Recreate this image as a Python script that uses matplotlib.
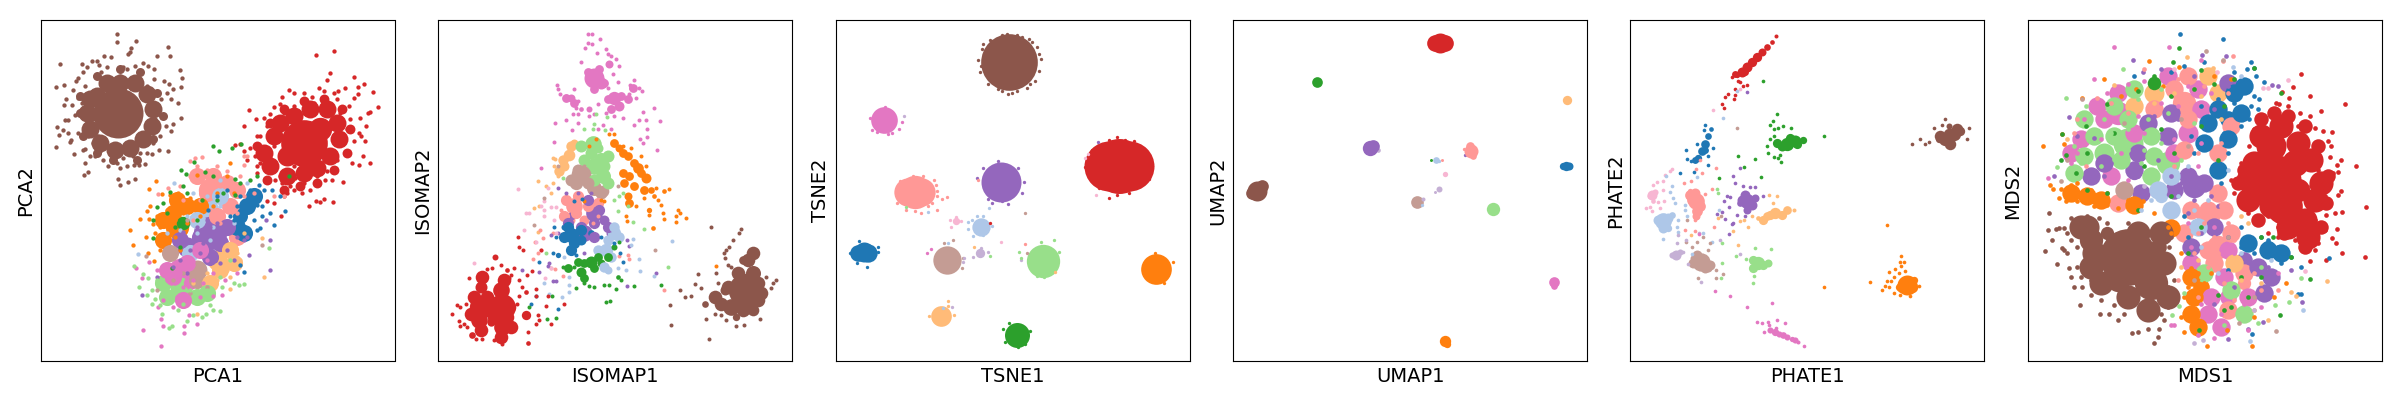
import matplotlib
matplotlib.use("Agg")
import matplotlib.pyplot as plt

BL, LB, OR, LO, GR, LG = "#1f77b4", "#aec7e8", "#ff7f0e", "#ffbb78", "#2ca02c", "#98df8a"
RE, LR, PU, LP = "#d62728", "#ff9896", "#9467bd", "#c5b0d5"
BR, LN, PI, LI = "#8c564b", "#c49c94", "#e377c2", "#f7b6d2"

NAMES = ["PCA", "ISOMAP", "TSNE", "UMAP", "PHATE", "MDS"]

# ---- values (x, y in picture position units per panel)
PCA_CORE_C = [LR, LB, OR, BL, PU, PU, PI, LN, LO, LG, PI, BR, RE, RE, RE]
PCA_CORE_XY = [(510,510),(500,570),(410,620),(600,590),(510,640),(440,680),(420,750),(470,750),(530,720),(420,800),(450,790),(235,280),(790,370),(740,410),(840,330)]
PCA_CORE_D = [70,70,70,45,100,60,70,60,60,60,40,150,140,60,70]
PCA_FILL = [
 (BR, 40, [(170,230),(200,190),(240,190),(285,190),(320,225),(340,270),(335,320),(310,360),(270,385),(225,390),(180,370),(150,330),(140,280),(150,240)]),
 (BR, 20, [(120,280),(130,350),(170,400),(220,420),(290,420),(340,360),(370,290),(350,220),(300,160),(240,150),(170,170),(120,230)]),
 (RE, 40, [(700,350),(720,310),(760,290),(810,270),(860,270),(890,310),(895,360),(870,410),(830,445),(790,460),(740,470),(690,440),(670,400)]),
 (RE, 22, [(650,380),(680,480),(730,510),(780,500),(830,490),(880,450),(920,400),(930,330),(905,270),(850,240),(790,245),(730,270),(690,310)]),
 (LR, 38, [(470,470),(520,470),(560,490),(590,510),(500,520),(530,590),(570,560),(590,650)]),
 (OR, 38, [(410,540),(480,560),(370,600),(400,580),(440,560),(370,660)]),
 (LB, 38, [(540,530),(470,600),(450,700)]),
 (BL, 38, [(620,560),(640,530),(590,620),(610,640)]),
 (GR, 30, [(430,610)]),
 (PU, 38, [(560,620),(420,660),(480,650),(540,670),(510,710)]),
 (LN, 38, [(390,700),(470,780)]),
 (LO, 38, [(570,690),(540,750),(580,730),(510,790)]),
 (LG, 38, [(370,790),(420,820),(380,830),(470,830),(500,820)]),
 (PI, 38, [(480,690),(380,750),(440,730),(430,840),(400,770)]),
]
PCA_BROWN = [(231,44),(232,70),(288,66),(274,88),(385,84),(389,110),(350,111),(265,105),(270,100),(213,115),(193,111),(61,136),(155,127),(127,135),(172,127),(178,137),(130,160),(115,177),(107,185),(73,196),(49,203),(141,145),(200,145),(248,143),(262,150),(285,140),(308,132),(324,142),(342,150),(419,154),(427,176),(372,185),(387,195),(424,204),(400,210),(382,222),(393,240),(415,250),(362,240),(342,180),(165,170),(183,160),(135,200),(100,212),(115,235),(78,238),(72,258),(97,258),(125,250),(140,262),(105,288),(75,303),(85,303),(52,324),(68,333),(83,340),(58,348),(92,362),(90,368),(47,382),(102,402),(128,390),(135,388),(145,350),(115,340),(135,325),(160,370),(175,350),(150,410),(135,430),(165,408),(190,420),(205,440),(143,456),(132,465),(234,478),(241,495),(263,486),(285,478),(240,445),(262,440),(283,437),(298,437),(316,432),(335,402),(357,392),(385,395),(393,336),(400,313),(424,295),(378,320),(360,350),(340,370),(320,400),(300,400),(280,410),(215,400),(250,415),(230,430),(180,395),(160,300),(330,320),(345,300),(350,260),(320,200),(290,180),(240,170),(190,190),(170,220),(145,235)]
PCA_RED = [(828,107),(880,97),(868,162),(861,181),(941,172),(972,195),(953,202),(997,217),(915,206),(953,225),(1013,263),(990,278),(983,280),(940,235),(925,260),(835,207),(745,212),(725,232),(760,220),(790,222),(815,232),(850,215),(880,220),(893,215),(627,272),(700,262),(720,255),(690,285),(670,295),(648,300),(610,320),(660,350),(680,320),(705,310),(730,280),(760,260),(900,280),(930,300),(960,295),(978,320),(955,340),(962,350),(975,365),(940,365),(920,395),(890,420),(935,430),(955,435),(968,410),(990,430),(908,488),(875,480),(855,480),(830,470),(860,455),(810,510),(790,490),(765,475),(750,500),(725,490),(705,480),(680,450),(660,430),(645,410),(630,385),(610,395),(583,376),(600,375),(620,420),(650,440),(690,415),(700,380),(720,470),(740,520),(760,510),(785,520),(805,560),(827,544),(840,548),(850,537),(878,548),(730,530),(680,545),(700,550),(722,588),(920,330),(880,300),(860,280),(770,290),(740,300),(890,240),(870,260),(820,250),(790,280),(650,460),(670,400),(700,440),(820,440),(760,440),(850,420),(900,370),(650,350)]
PCA_ORANGE = [(349,484),(326,508),(330,560),(322,575),(300,598),(327,598),(270,631),(278,676),(317,650),(340,612),(365,522),(390,525),(415,520),(450,535),(470,465),(560,470),(570,430),(580,520),(520,560),(380,570),(350,590),(360,620),(405,600),(430,580),(405,650),(380,660),(345,640),(325,700),(342,722),(360,690),(440,610),(420,690),(400,560),(455,560),(480,590),(530,520)]
PCA_LRED = [(465,416),(487,413),(450,425),(470,440),(500,450),(530,440),(560,455),(610,437),(620,410),(600,470),(450,470),(420,500),(385,505),(355,522),(500,500),(540,500),(570,540),(610,530),(590,580),(540,610),(480,540),(460,600),(510,570),(640,520),(700,530),(610,410),(730,530),(430,540),(480,480)]
PCA_LBLUE = [(403,490),(295,701),(540,480),(500,530),(460,520),(420,630),(380,640),(540,560),(580,610),(520,620),(470,640),(440,590),(510,660),(620,490)]
PCA_GREEN = [(519,379),(537,393),(574,386),(602,375),(423,451),(437,464),(463,427),(495,457),(520,470),(430,498),(390,518),(352,563),(370,550),(380,580),(340,600),(340,655),(405,620),(440,520),(485,540),(548,520),(585,525),(600,490),(630,480),(650,470),(745,470),(585,478),(420,680),(395,745),(470,600),(530,540)]
PCA_BLUE = [(655,495),(670,512),(630,510),(600,530),(590,560),(620,550),(640,540),(610,590),(580,600),(640,600),(620,630),(600,650),(665,590),(650,630),(695,510),(720,530),(735,575),(702,615),(665,560),(690,580),(560,510),(530,530),(505,570),(600,735),(612,755),(570,590),(630,570),(650,555),(660,625)]
PCA_PURPLE = [(430,635),(470,620),(500,600),(530,610),(560,640),(590,650),(610,660),(530,670),(490,670),(450,690),(420,720),(480,700),(520,700),(560,690),(580,720),(540,730),(625,705),(688,660),(688,750),(677,600),(620,650),(307,824),(350,770),(400,740),(440,760),(510,620)]
PCA_LORANGE = [(665,655),(670,772),(569,807),(580,740),(600,720),(560,750),(530,780),(500,760),(460,790),(610,640),(590,700),(545,715),(470,880),(520,740),(570,770)]
PCA_LBROWN = [(664,675),(318,708),(375,700),(440,600),(470,730),(430,760),(400,780),(500,800),(350,810),(450,820),(400,700)]
PCA_PINK = [(308,930),(363,978),(433,937),(432,918),(370,917),(362,895),(470,912),(447,883),(287,745),(305,773),(326,725),(370,840),(400,860),(350,750),(380,780),(430,800),(460,780),(490,790),(520,760),(410,830),(450,740),(500,720),(420,760),(480,830),(355,860),(555,780),(545,825),(520,828),(590,760)]
PCA_LGREEN = [(282,738),(310,762),(325,775),(298,800),(320,825),(335,810),(345,838),(360,855),(335,850),(395,918),(386,923),(365,880),(415,870),(440,903),(485,890),(460,885),(497,882),(520,868),(540,871),(510,855),(545,800),(580,790),(612,792),(597,795),(685,683),(360,800),(390,830),(430,850),(470,840),(500,810),(540,770),(570,720),(450,810),(400,800),(350,780)]
PCA_DOT_C = [BR, RE, OR, LR, LB, GR, BL, PU, LO, LN, PI, LG]
PCA_DOTS = [PCA_BROWN, PCA_RED, PCA_ORANGE, PCA_LRED, PCA_LBLUE, PCA_GREEN, PCA_BLUE, PCA_PURPLE, PCA_LORANGE, PCA_LBROWN, PCA_PINK, PCA_LGREEN]

ISO_CORE_C = [PI]*9 + [LG]*5 + [LO]*3 + [LN]*4 + [OR]*11 + [LR]*3 + [PU]*5 + [BL]*5 + [LB]*3 + [GR]*5 + [LI] + [RE]*13 + [BR]*9
ISO_CORE_XY = [(470,175),(490,190),(515,135),(530,235),(545,260),(400,235),(455,270),(430,268),(580,205),
 (465,375),(490,420),(470,440),(495,470),(480,385),(395,405),(380,440),(410,370),
 (430,465),(470,505),(415,490),(495,515),
 (545,385),(570,410),(600,445),(625,475),(640,510),(560,490),(570,530),(650,530),(635,570),(680,515),(645,625),
 (410,560),(440,600),(400,600),(470,580),(440,640),(500,600),(520,640),(400,590),
 (400,645),(430,660),(360,705),(380,620),(460,640),(530,640),(505,690),(510,750),
 (460,725),(430,755),(490,730),(540,770),(530,680),(320,545),
 (130,860),(130,800),(125,900),(195,860),(195,920),(190,810),(265,885),(265,815),(172,712),(210,750),(270,968),(160,905),(105,945),
 (920,810),(880,860),(945,760),(860,810),(945,870),(950,690),(915,720),(800,850),(895,890)]
ISO_CORE_D = [60,36,24,40,30,24,18,14,14, 50,45,50,45,30, 35,30,24, 60,45,40,35, 24,26,32,30,20,26,24,14,16,14,14, 50,30,24, 50,50,30,30,24, 45,30,16,18,20, 40,40,24, 36,30,24,14,18, 12, 70,36,50,80,50,50,28,14,18,14,14,25,20, 100,50,45,30,35,14,26,20,22]
ISO_FILL = [
 (RE, 34, [(110,830),(135,770),(120,870),(150,830),(100,880),(130,930),(200,780),(170,850),(215,860),(170,890),(210,890),(190,950),(220,920)]),
 (BR, 34, [(870,800),(900,760),(930,720),(960,790),(970,820),(900,850),(850,850),(830,830),(930,860),(960,840),(945,700),(915,870)]),
 (PI, 22, [(450,160),(485,150),(500,190),(470,210),(510,240),(550,230),(570,240),(520,270),(385,235),(410,250),(585,205)]),
 (LO, 26, [(400,380),(375,420),(365,455)]),
 (LG, 30, [(430,380),(460,400),(440,420),(510,410),(500,440),(470,480),(510,490)]),
 (LN, 30, [(420,450),(400,480),(450,490),(490,520)]),
 (OR, 22, [(530,370),(555,400),(590,430),(610,460),(575,470),(590,500),(555,460),(620,510),(575,550)]),
 (LR, 28, [(385,540),(420,530),(450,560),(380,590),(480,550),(415,580)]),
 (PU, 28, [(450,540),(485,570),(470,610),(510,620),(390,610),(430,620),(470,650)]),
 (BL, 28, [(390,620),(410,670),(380,650),(430,630),(400,690)]),
 (LB, 26, [(530,620),(545,650),(510,660),(520,710),(480,690),(500,740)]),
 (GR, 22, [(420,725),(440,730),(470,745),(510,710),(440,775),(480,710),(390,745)]),
]
ISO_PINK = [(450,45),(463,46),(486,59),(452,72),(462,76),(443,87),(478,103),(505,90),(510,105),(535,120),(520,110),(429,129),(545,142),(525,165),(540,187),(510,205),(357,198),(360,209),(367,224),(385,230),(410,210),(420,245),(415,265),(590,183),(577,197),(605,205),(612,215),(595,235),(575,225),(505,280),(480,255),(470,285),(455,290),(405,285),(422,285),(385,302),(352,310),(422,310),(650,265),(617,279),(605,302),(625,302),(667,306),(588,318),(627,330),(607,358),(627,352),(617,370),(659,392),(350,367),(403,333),(310,446),(480,330),(495,318),(520,330),(555,295),(528,290)]
ISO_LGREEN = [(475,285),(508,292),(470,315),(465,330),(440,330),(375,475),(530,540),(545,530),(555,520),(570,560),(587,608),(620,628),(540,575),(692,742),(325,698),(503,332)]
ISO_LORANGE = [(345,416),(353,417),(350,440),(360,470),(345,490),(340,520),(300,483),(290,565),(305,560),(300,635),(325,500)]
ISO_LBROWN = [(290,616),(653,690),(540,500),(440,440),(320,535),(360,440)]
ISO_ORANGE = [(513,345),(530,345),(555,380),(580,385),(610,410),(625,440),(655,505),(660,540),(670,555),(675,580),(678,597),(695,507),(720,572),(727,580),(715,590),(715,606),(745,595),(565,590),(567,605),(595,560),(620,535),(635,585),(500,545),(490,540),(475,360),(455,380),(438,545),(835,737)]
ISO_LRED = [(465,610),(480,590),(370,570),(375,590),(345,640),(420,520),(316,654),(293,665),(307,630),(310,690),(340,745),(352,748),(375,768),(300,700),(570,705),(575,718),(545,708),(680,810),(285,717)]
ISO_PURPLE = [(362,505),(385,520),(420,520),(460,520),(340,645),(360,640),(255,750),(305,757),(345,782),(355,782),(333,728),(568,659),(575,677),(655,760),(567,797),(440,700),(330,738)]
ISO_BLUE = [(410,545),(432,538),(350,620),(355,650),(345,700),(305,727),(295,829),(362,866),(400,700),(415,705),(530,670),(548,700),(555,725),(280,850),(490,650)]
ISO_LBLUE = [(585,657),(702,663),(580,675),(605,717),(565,750),(607,752),(650,767),(395,770),(395,795),(393,815),(372,832),(335,823),(318,790),(380,710),(540,745)]
ISO_GREEN = [(390,745),(375,740),(410,740),(440,790),(455,798),(470,800),(498,795),(515,795),(535,808),(590,798),(545,665),(505,845),(518,843),(342,827),(329,895),(356,892),(670,795),(275,860),(415,805),(550,780)]
ISO_LPINK = [(243,509),(330,505),(310,560),(320,570),(340,563),(355,563),(320,590),(265,580),(275,580),(350,600),(260,630),(295,665),(322,773),(340,745),(110,729),(355,640)]
ISO_RED = [(45,880),(58,855),(67,860),(65,902),(68,917),(80,910),(95,775),(85,850),(90,920),(115,955),(135,955),(170,958),(195,972),(150,747),(165,745),(190,735),(230,745),(220,765),(215,775),(268,765),(245,780),(283,753),(255,800),(295,808),(295,828),(245,680),(242,650),(258,690),(245,828),(240,850),(300,885),(305,900),(295,910),(325,858),(330,828),(340,912),(380,850),(310,690),(270,935)]
ISO_BROWN = [(818,620),(910,627),(902,640),(885,660),(863,690),(873,680),(857,700),(860,715),(835,760),(780,762),(772,792),(790,805),(727,810),(760,827),(742,831),(697,853),(700,915),(812,957),(805,895),(830,880),(895,918),(918,915),(965,895),(985,770),(1015,780),(1005,790),(998,803),(870,735),(840,790),(848,885),(865,900),(880,740)]
ISO_DOT_C = [PI, LG, LO, LN, OR, LR, PU, BL, LB, GR, LI, RE, BR]
ISO_DOTS = [ISO_PINK, ISO_LGREEN, ISO_LORANGE, ISO_LBROWN, ISO_ORANGE, ISO_LRED, ISO_PURPLE, ISO_BLUE, ISO_LBLUE, ISO_GREEN, ISO_LPINK, ISO_RED, ISO_BROWN]

TSNE_CORE_C = [BR, RE, RE, RE, PU, LR, LR, LR, PI, BL, BL, BL, LB, LI, LN, LP, LG, OR, LO, GR]
TSNE_CORE_XY = [(523,128),(820,440),(880,440),(850,440),(498,487),(220,517),(258,517),(240,517),(148,302),(70,698),(100,698),(87,697),(437,622),(362,604),(335,720),(435,700),(623,722),(962,748),(318,887),(545,943)]
TSNE_CORE_D = [170,150,150,165,120,85,85,100,80,50,55,60,55,22,85,28,100,92,62,75]
TSNE_BROWN = [(517,45),(470,65),(440,90),(428,122),(435,160),(460,195),(500,215),(545,215),(585,195),(612,155),(618,120),(605,85),(580,60),(545,48),(490,210),(518,225),(530,222),(575,205),(600,185),(437,140),(445,75),(465,62),(500,48),(560,55),(590,70),(612,105)]
TSNE_RED = [(845,353),(820,362),(770,390),(755,420),(750,442),(765,475),(790,505),(820,534),(845,525),(880,520),(915,500),(940,478),(950,440),(940,405),(915,380),(897,365),(870,362),(464,610)]
TSNE_PURPLE = [(425,474),(460,537),(520,553),(472,550),(560,520),(565,487),(548,445),(490,425),(445,445),(500,545),(787,367)]
TSNE_LRED = [(297,481),(303,495),(307,513),(306,530),(320,537),(336,532),(292,550),(280,560),(305,572),(257,580),(240,574),(213,572),(187,551),(196,484),(264,470),(235,468),(570,673),(428,482)]
TSNE_PINK = [(201,308),(193,330),(112,332),(127,337),(150,262),(105,297),(170,340),(158,345),(277,700),(289,688)]
TSNE_BLUE = [(130,680),(97,742),(72,662),(45,700),(128,695),(65,728)]
TSNE_LBLUE = [(398,607),(462,565),(443,590),(425,590),(470,617),(400,627),(415,648),(445,645),(410,600),(338,670),(279,577),(325,863)]
TSNE_LPINK = [(346,602),(378,605),(348,621),(362,592),(498,667),(782,526),(748,414),(758,403)]
TSNE_LBROWN = [(326,668),(355,661),(383,713),(570,581),(380,745),(575,700)]
TSNE_LPURPLE = [(415,711),(460,695),(437,683),(387,715),(385,727),(557,720),(350,860),(207,289)]
TSNE_LGREEN = [(618,665),(655,660),(672,695),(550,696),(558,713),(465,709),(605,768),(625,770),(213,563)]
TSNE_ORANGE = [(1013,725),(960,700),(925,745),(985,790)]
TSNE_LORANGE = [(340,841),(340,857),(358,883),(282,888),(417,681),(660,755)]
TSNE_GREEN = [(523,908),(585,932),(510,965),(547,980),(570,972),(505,925)]
TSNE_DOT_C = [BR, RE, PU, LR, PI, BL, LB, LI, LN, LP, LG, OR, LO, GR]
TSNE_DOTS = [TSNE_BROWN, TSNE_RED, TSNE_PURPLE, TSNE_LRED, TSNE_PINK, TSNE_BLUE, TSNE_LBLUE, TSNE_LPINK, TSNE_LBROWN, TSNE_LPURPLE, TSNE_LGREEN, TSNE_ORANGE, TSNE_LORANGE, TSNE_GREEN]

UMAP_CORE_C = [RE, RE, RE, GR, LO, BL, BL, BL, LP, PU, PU, PU, LR, LR, LR, LR, LB, LB, GR, LR, LI, LP, LP, LN, LP, LB, LG, BR, BR, BR, PI, PI, OR, OR]
UMAP_CORE_XY = [(607,72),(637,72),(622,71),(255,188),(1001,241),(990,438),(1007,440),(999,439),(436,390),(412,387),(422,381),(698,405),(714,394),(712,380),(694,389),(722,408),(611,422),(620,425),(596,420),(627,421),(636,462),(619,507),(607,518),(552,547),(570,537),(567,556),(780,567),(75,513),(60,520),(88,500),(963,785),(962,798),(637,962),(642,972)]
UMAP_CORE_D = [50,50,60,32,28,22,24,28,14,46,38,10,42,26,10,20,20,10,9,9,16,18,9,38,12,10,40,60,38,38,32,20,34,22]

PHATE_CORE_C = [RE]*9 + [BL]*5 + [GR]*4 + [BR]*5 + [PU]*4 + [LO]*5 + [LR]*4 + [LI]*2 + [LB]*3 + [LN]*3 + [LP] + [LG]*2 + [OR]*3 + [PI]*4
PHATE_CORE_XY = [(335,160),(350,145),(365,130),(380,115),(395,100),(410,85),(425,70),(437,52),(322,168),
 (205,415),(215,395),(225,375),(235,350),(243,330),
 (470,375),(495,365),(520,362),(455,380),
 (945,360),(970,345),(990,335),(925,358),(955,320),
 (350,545),(375,535),(330,550),(350,570),
 (435,580),(470,570),(410,590),(385,595),(492,570),
 (198,545),(195,520),(198,590),(180,515),
 (65,525),(70,545),(100,605),(125,585),(115,625),
 (212,725),(235,745),(190,715),(137,705),(385,728),(415,730),
 (830,795),(805,800),(850,780),
 (435,935),(460,945),(485,955),(505,965)]
PHATE_CORE_D = [30,30,28,28,24,20,14,12,16, 22,26,26,20,14, 40,36,22,30, 40,40,28,22,18, 45,24,20,24, 34,26,26,14,12, 50,30,24,16, 30,14, 50,20,22, 55,24,18, 30, 40,24, 60,22,22, 22,20,16,12]
PHATE_FILL = [
 (GR, 24, [(440,370),(480,355),(500,375)]),
 (BR, 30, [(930,350),(955,345),(980,330),(960,375)]),
 (LO, 24, [(420,585),(455,585),(400,600)]),
 (PU, 26, [(335,540),(365,555),(345,525)]),
 (LR, 28, [(185,540),(210,560),(200,575),(180,525)]),
 (LI, 16, [(60,530),(75,518)]),
 (LB, 26, [(85,600),(115,595),(100,625)]),
 (LN, 26, [(200,705),(225,745),(190,730),(240,735)]),
 (LP, 16, [(125,705),(150,695)]),
 (LG, 24, [(370,720),(370,745),(400,735)]),
 (OR, 30, [(815,800),(845,800)]),
 (PI, 16, [(420,930),(448,942),(470,950),(495,960)]),
 (RE, 18, [(315,165),(345,160)]),
 (BL, 18, [(195,420),(225,390)]),
]
PHATE_RED = [(305,172),(330,188),(352,198),(316,208),(340,200),(295,225),(286,232),(315,228),(313,240),(275,255),(282,266),(325,185)]
PHATE_BLUE = [(225,317),(222,333),(167,391),(170,417),(182,425),(235,410),(250,385),(200,375),(150,459),(193,457),(234,436)]
PHATE_GREEN = [(442,283),(428,305),(420,318),(433,330),(445,325),(460,320),(484,325),(432,350),(420,358),(412,380),(415,400),(432,412),(452,428),(450,405),(445,415),(582,351),(398,186),(323,409),(343,441),(374,419),(394,472),(266,474)]
PHATE_BROWN = [(945,300),(912,327),(935,317),(870,358),(844,375),(885,373),(895,368),(1010,360),(1015,325)]
PHATE_PURPLE = [(338,500),(360,502),(375,502),(400,530),(309,469),(315,489),(330,445),(352,219),(290,528),(283,545),(300,533),(298,562),(262,583),(284,598),(310,610),(322,585),(298,642),(277,578),(305,612),(345,590)]
PHATE_LORANGE = [(418,527),(440,528),(430,550),(342,600),(329,604),(355,622),(365,590),(310,634),(264,595),(324,675),(183,645)]
PHATE_LRED = [(162,490),(183,483),(225,522),(217,460),(197,447),(258,446),(247,507),(210,420),(195,600),(165,630),(252,620),(195,632)]
PHATE_LPINK = [(125,448),(120,455),(105,467),(98,483),(80,488),(70,497),(100,510),(47,566),(60,562),(85,548),(102,545),(90,565),(65,575),(248,271),(330,208)]
PHATE_LBLUE = [(107,470),(200,472),(127,500),(120,518),(130,535),(135,550),(165,555),(165,570),(170,590),(145,600),(145,635),(100,658),(140,620),(280,296),(322,216),(268,570),(245,667),(220,640),(185,703)]
PHATE_LBROWN = [(200,665),(185,680),(233,690),(220,650),(240,668),(258,750),(203,773),(258,775),(278,762),(322,325),(272,590),(170,602),(168,665)]
PHATE_LPURPLE = [(168,660),(143,645),(140,670),(160,695),(175,732),(212,785),(270,660),(330,703),(207,640)]
PHATE_LGREEN = [(375,683),(424,686),(317,707),(347,718),(372,767),(370,790),(277,668),(277,730),(272,775),(262,507),(265,520)]
PHATE_ORANGE = [(769,616),(813,707),(808,727),(822,727),(813,738),(825,752),(793,748),(775,755),(805,760),(790,772),(770,782),(782,782),(720,785),(765,797),(776,802),(754,811),(790,820),(580,800),(838,827),(865,797),(810,825)]
PHATE_PINK = [(380,905),(395,908),(415,905),(440,898),(465,908),(402,935),(438,922),(522,976),(255,813),(300,828),(352,860),(426,847),(207,642),(418,915)]
PHATE_DOT_C = [RE, BL, GR, BR, PU, LO, LR, LI, LB, LN, LP, LG, OR, PI]
PHATE_DOTS = [PHATE_RED, PHATE_BLUE, PHATE_GREEN, PHATE_BROWN, PHATE_PURPLE, PHATE_LORANGE, PHATE_LRED, PHATE_LPINK, PHATE_LBLUE, PHATE_LBROWN, PHATE_LPURPLE, PHATE_LGREEN, PHATE_ORANGE, PHATE_PINK]

MDS_CORE_C = [LG, LG, LG, PI, LR, LO, PU, PU, BL, LB, LR, LR, PU, BL, OR, PI, LR, PI, BR, BR, BR, BR, BR, BR, RE, RE, RE, RE, RE, RE]
MDS_CORE_XY = [(300,370),(230,400),(420,430),(270,280),(470,250),(380,220),(500,500),(320,460),(600,300),(400,530),(540,590),(570,680),(650,720),(720,680),(520,800),(600,830),(650,790),(480,340),(300,710),(190,660),(370,790),(270,780),(390,680),(240,640),(745,480),(770,560),(730,380),(800,430),(810,510),(680,500)]
MDS_CORE_D = [90,60,70,70,70,60,70,40,50,40,70,70,50,40,50,50,40,60,170,70,100,70,50,40,150,110,90,80,70,50]
MDS_FILL = [
 (PI, 38, [(420,170),(510,210),(270,220),(210,260),(520,270),(230,300),(160,360),(320,340),(130,400),(440,400),(250,470),(600,690),(490,730),(590,770),(550,830),(660,830),(540,880),(580,920)]),
 (LR, 38, [(480,170),(440,210),(380,270),(480,300),(610,320),(470,390),(570,400),(570,520),(270,550),(490,570),(540,570),(590,570),(470,640),(610,640),(540,690),(560,730),(650,760),(600,870)]),
 (LO, 38, [(540,170),(570,220),(320,260),(620,730)]),
 (GR, 28, [(380,190)]),
 (PU, 38, [(600,190),(430,280),(360,310),(420,350),(230,430),(330,400),(190,470),(320,450),(480,470),(530,490),(440,510),(340,520),(560,620),(490,680),(690,740),(730,770),(710,820)]),
 (BL, 38, [(650,200),(620,220),(570,270),(540,310),(640,280),(530,370),(600,360),(570,450),(660,670),(720,690),(760,700)]),
 (LG, 38, [(320,210),(260,260),(170,300),(300,300),(200,350),(260,350),(370,350),(170,410),(280,420),(380,410),(140,460),(370,470),(530,760),(610,810),(650,880)]),
 (LB, 38, [(430,470),(390,510),(430,570),(510,620)]),
 (LN, 38, [(290,510)]),
 (OR, 38, [(130,520),(180,530),(220,540),(320,555),(430,625),(490,770),(500,830),(490,880),(510,920)]),
 (BR, 50, [(160,620),(200,700),(180,620),(330,640),(400,640),(410,730),(420,830),(360,870),(300,830),(220,790),(190,740),(320,660)]),
 (RE, 50, [(680,430),(660,480),(700,520),(730,560),(780,620),(830,600),(860,540),(880,490),(850,420),(810,370),(760,320),(700,350),(660,540),(840,650)]),
 (RE, 30, [(740,280),(780,290),(830,320),(870,380),(900,470),(895,550),(880,620),(830,680),(770,640),(650,450),(630,490),(690,600),(700,300)]),
]
MDS_RED = [(819,165),(796,202),(845,230),(950,253),(878,275),(762,217),(785,235),(755,255),(745,250),(780,260),(815,280),(845,290),(860,325),(885,335),(913,337),(900,365),(908,380),(905,412),(940,420),(983,440),(928,435),(915,460),(930,458),(900,470),(895,500),(940,513),(930,525),(1015,562),(943,578),(920,580),(890,530),(893,585),(927,627),(890,630),(860,640),(870,670),(840,670),(860,690),(912,653),(923,670),(941,698),(1010,710),(895,720),(847,722),(800,660),(770,650),(720,640),(700,610),(660,580),(620,520),(610,480),(640,430),(665,380),(680,330),(700,290),(740,270),(750,290),(790,300),(835,330),(810,320),(860,370),(870,400),(870,450),(850,500),(880,560),(860,600),(830,620),(800,630),(750,620),(720,590),(650,500),(670,450),(710,340),(850,560),(820,650),(750,650)]
MDS_BROWN = [(65,580),(62,630),(95,625),(85,628),(75,660),(52,692),(88,732),(105,683),(120,700),(110,625),(130,595),(145,610),(180,590),(215,595),(240,610),(300,610),(340,625),(380,630),(410,645),(425,680),(425,730),(440,780),(440,830),(420,860),(400,880),(410,900),(395,925),(378,967),(390,950),(330,935),(312,938),(360,925),(270,898),(245,880),(218,880),(157,855),(190,825),(140,800),(165,800),(130,770),(125,745),(150,740),(160,770),(200,800),(220,840),(260,855),(290,880),(340,875),(375,885),(180,690),(150,680),(130,660),(120,640),(170,640),(110,690),(170,735),(190,780),(230,810),(280,830),(320,850),(380,860),(420,800),(430,650),(350,640),(200,620)]
MDS_ORANGE = [(48,381),(230,179),(165,235),(110,375),(105,345),(68,495),(78,508),(100,508),(115,545),(95,535),(130,495),(150,545),(170,530),(200,560),(215,550),(240,555),(270,565),(320,550),(345,545),(380,580),(420,620),(430,640),(365,127),(405,200),(455,145),(560,170),(610,180),(280,230),(325,210),(460,700),(490,745),(510,760),(480,800),(530,790),(550,760),(470,830),(500,870),(460,890),(520,910),(537,977),(672,977),(470,936),(598,928),(775,790),(740,830),(680,890),(190,510),(150,490),(240,520),(300,540)]
MDS_BLUE = [(458,45),(585,60),(669,129),(680,148),(658,151),(685,170),(708,187),(640,190),(620,160),(530,130),(470,140),(430,160),(318,170),(680,230),(695,240),(670,260),(690,270),(650,290),(665,300),(640,320),(610,370),(600,400),(590,340),(550,300),(520,260),(570,240),(490,350),(500,400),(580,490),(560,450),(620,250),(470,590),(480,650),(660,650),(640,680),(680,700),(720,660),(750,680),(770,700),(760,730),(790,710),(820,740),(810,822),(820,822),(902,715),(673,940),(700,650),(640,620),(600,750)]
MDS_GREEN = [(453,87),(437,130),(520,152),(680,147),(760,220),(620,180),(560,195),(500,210),(430,230),(380,170),(330,215),(240,255),(175,320),(105,345),(100,420),(115,405),(180,400),(145,460),(180,510),(240,520),(330,570),(260,340),(400,330),(440,400),(350,440),(520,320),(590,260),(570,420),(430,530),(520,620),(700,650),(735,650),(790,710),(640,770),(570,825),(480,700),(610,860),(845,778),(757,885),(515,928),(660,830),(700,770),(590,870)]
MDS_PURPLE = [(315,122),(523,108),(596,110),(733,197),(752,200),(125,293),(345,160),(400,150),(500,170),(600,200),(560,270),(450,300),(380,290),(320,440),(330,470),(230,470),(200,355),(150,350),(80,470),(250,430),(460,490),(490,510),(520,490),(550,530),(430,470),(390,420),(500,540),(570,560),(520,640),(600,650),(660,720),(720,740),(620,800),(560,850),(600,957),(707,905),(823,845),(790,750),(660,925),(480,580)]
MDS_PINK = [(259,83),(425,83),(201,180),(520,122),(300,195),(350,185),(420,170),(480,200),(550,220),(240,220),(200,270),(170,300),(260,300),(330,290),(400,250),(450,260),(520,370),(280,400),(220,360),(130,430),(62,475),(150,400),(350,340),(440,360),(510,440),(300,480),(560,620),(620,700),(490,680),(520,850),(580,880),(440,915),(430,915),(510,943),(560,953),(660,930),(700,860),(600,760),(650,850),(480,610),(750,760)]
MDS_LGREEN = [(117,237),(286,150),(175,260),(230,300),(330,240),(400,210),(140,380),(160,430),(250,340),(300,330),(350,390),(400,370),(280,420),(220,440),(340,430),(460,420),(500,310),(420,280),(90,442),(360,300),(470,820),(520,770),(610,810),(650,880),(590,915),(741,855),(785,845),(818,773),(690,908),(432,885),(455,858),(700,740),(300,390),(250,400)]
MDS_LRED = [(616,110),(585,125),(350,150),(210,235),(150,300),(140,340),(175,440),(250,250),(300,280),(450,180),(530,200),(600,220),(440,440),(510,400),(580,370),(480,560),(540,570),(580,560),(600,610),(560,650),(510,640),(500,700),(570,700),(620,660),(680,760),(540,740),(590,790),(510,830),(450,780),(700,810),(750,810),(620,840),(480,630),(530,610)]
MDS_LORANGE = [(259,198),(478,113),(555,148),(320,260),(440,220),(380,250),(520,230),(580,300),(120,360),(640,590),(660,610),(640,780),(700,790),(680,870),(790,815),(805,828),(898,783),(720,900),(600,720),(460,740),(510,720)]
MDS_LBLUE = [(340,570),(370,540),(420,560),(450,530),(500,570),(540,540),(480,440),(600,450),(640,170),(615,143),(520,680),(570,760),(668,963),(825,870),(640,700),(730,720)]
MDS_LBROWN = [(534,97),(585,122),(165,240),(745,933),(635,908),(100,485),(120,420),(290,310),(480,380),(600,650),(500,780),(680,830),(460,300)]
MDS_LPINK = [(781,181),(830,752),(568,160),(440,150),(720,205),(707,205)]
MDS_LPURPLE = [(500,968),(525,960),(680,870),(350,500)]
MDS_DOT_C = [RE, BR, OR, BL, GR, PU, PI, LG, LR, LO, LB, LN, LI, LP]
MDS_DOTS = [MDS_RED, MDS_BROWN, MDS_ORANGE, MDS_BLUE, MDS_GREEN, MDS_PURPLE, MDS_PINK, MDS_LGREEN, MDS_LRED, MDS_LORANGE, MDS_LBLUE, MDS_LBROWN, MDS_LPINK, MDS_LPURPLE]

# core colours, core positions, core diameters, fills, dot colours, dots, dot diameter, fill scale
PANELS = [
    (PCA_CORE_C, PCA_CORE_XY, PCA_CORE_D, PCA_FILL, PCA_DOT_C, PCA_DOTS, 13, 1.35),
    (ISO_CORE_C, ISO_CORE_XY, ISO_CORE_D, ISO_FILL, ISO_DOT_C, ISO_DOTS, 12, 1.2),
    (TSNE_CORE_C, TSNE_CORE_XY, TSNE_CORE_D, [], TSNE_DOT_C, TSNE_DOTS, 10, 1.0),
    (UMAP_CORE_C, UMAP_CORE_XY, UMAP_CORE_D, [], [], [], 10, 1.0),
    (PHATE_CORE_C, PHATE_CORE_XY, PHATE_CORE_D, PHATE_FILL, PHATE_DOT_C, PHATE_DOTS, 11, 1.15),
    (MDS_CORE_C, MDS_CORE_XY, MDS_CORE_D, MDS_FILL, MDS_DOT_C, MDS_DOTS, 14, 1.45),
]

W, H = 2400, 400
LEFT0, PITCH, AW, TOP, AH = 40.5, 397.5, 354, 19.6, 341.5
PT_PER_UNIT = 0.24


def area(d):
    return (d * PT_PER_UNIT) ** 2


fig = plt.figure(figsize=(W / 100, H / 100), dpi=100)
for i, (name, panel) in enumerate(zip(NAMES, PANELS)):
    core_c, core_xy, core_d, fill, dot_c, dots, dot_d, fill_scale = panel
    ax = fig.add_axes([(LEFT0 + i * PITCH) / W, 1 - (TOP + AH) / H, AW / W, AH / H])
    for c, (x, y), d in zip(core_c, core_xy, core_d):
        ax.scatter([x], [y], s=area(d), c=c, linewidths=0)
    for c, d, pts in fill:
        ax.scatter([p[0] for p in pts], [p[1] for p in pts], s=area(d * fill_scale), c=c, linewidths=0)
    for c, pts in zip(dot_c, dots):
        ax.scatter([p[0] for p in pts], [p[1] for p in pts], s=area(dot_d), c=c, linewidths=0)
    ax.set_xlim(2, 1062)
    ax.set_ylim(1022, 2)
    ax.set_xticks([])
    ax.set_yticks([])
    ax.set_xlabel(name + "1", fontsize=14)
    ax.set_ylabel(name + "2", fontsize=14)
fig.savefig("out.png", dpi=100)
